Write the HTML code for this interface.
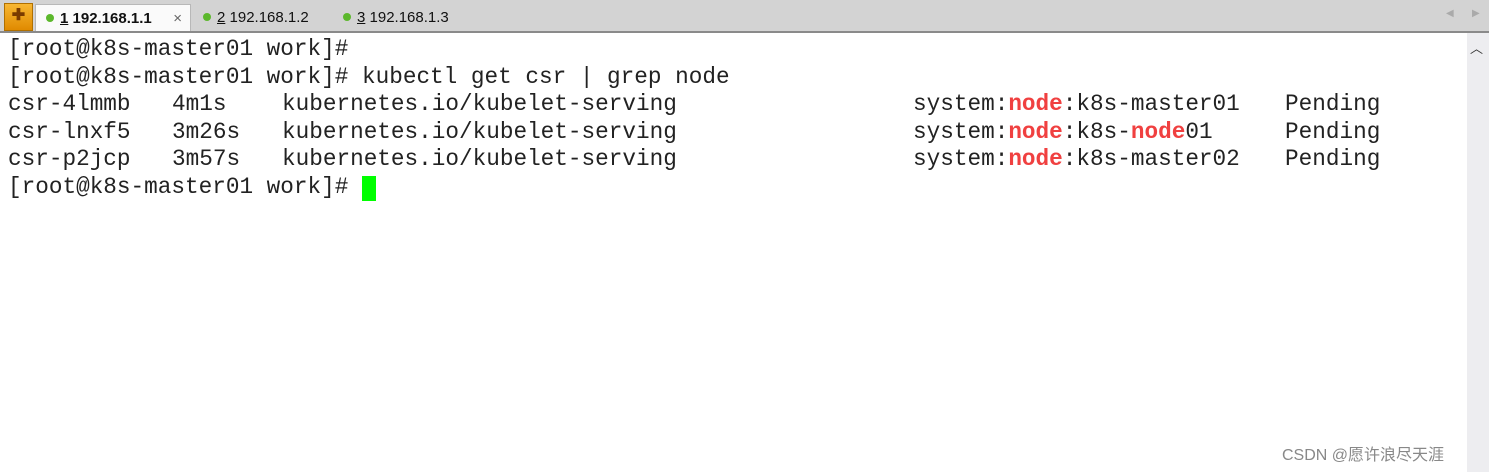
<!DOCTYPE html>
<html><head><meta charset="utf-8"><style>
body{margin:0;width:1489px;height:472px;overflow:hidden;background:#fff;position:relative;font-family:"Liberation Sans",sans-serif}
.bar{position:absolute;left:0;top:0;width:1489px;height:31px;background:#d3d3d3;border-bottom:1px solid #a0a0a0}
.sep{position:absolute;left:0;top:31px;width:1489px;height:2px;background:#8a8a8a}
.tab{position:absolute;top:4px;height:27px;font-size:15px;line-height:27px;color:#111}
.dot{display:inline-block;width:8px;height:8px;border-radius:50%;background:#5cb82c;margin-right:6px;vertical-align:1px}
.t{position:absolute;font-family:"Liberation Mono",monospace;font-size:22.7px;color:#222;white-space:pre;line-height:27px}
.r{color:#f04040;font-weight:bold}
.sb{position:absolute;left:1467px;top:33px;width:22px;height:439px;background:#ededf0}
</style></head><body>
<div class="bar"></div>
<div style="position:absolute;left:4px;top:3px;width:27px;height:26px;background:linear-gradient(#f7b733,#e08a00);border:1px solid #b07000;color:#7a3b00;font-size:16px;text-align:center;line-height:24px;font-weight:bold">✚</div>
<div class="tab" style="left:35px;width:156px;background:#fafafa;border:1px solid #b8b8b8;border-bottom:none;padding-left:10px;box-sizing:border-box;font-weight:bold"><span class="dot"></span><u>1</u> 192.168.1.1<span style="position:absolute;right:8px;font-weight:normal;color:#666">×</span></div>
<div class="tab" style="left:203px"><span class="dot"></span><u>2</u> 192.168.1.2</div>
<div class="tab" style="left:343px"><span class="dot"></span><u>3</u> 192.168.1.3</div>
<div style="position:absolute;left:1446px;top:8px;font-size:10px;color:#aaa">◀</div>
<div style="position:absolute;left:1472px;top:8px;font-size:10px;color:#aaa">▶</div>
<div class="sep"></div>
<div class="sb"></div>
<div style="position:absolute;left:1470px;top:38px;font-size:13px;color:#333">︿</div>

<div class="t" style="left:8px;top:36px">[root@k8s-master01 work]#</div>
<div class="t" style="left:8px;top:64px">[root@k8s-master01 work]# kubectl get csr | grep node</div>

<div class="t" style="left:8px;top:91px">csr-4lmmb</div><div class="t" style="left:172px;top:91px">4m1s</div><div class="t" style="left:282px;top:91px">kubernetes.io/kubelet-serving</div><div class="t" style="left:913px;top:91px">system:<span class="r">node</span>:k8s-master01</div><div class="t" style="left:1285px;top:91px">Pending</div>

<div class="t" style="left:8px;top:119px">csr-lnxf5</div><div class="t" style="left:172px;top:119px">3m26s</div><div class="t" style="left:282px;top:119px">kubernetes.io/kubelet-serving</div><div class="t" style="left:913px;top:119px">system:<span class="r">node</span>:k8s-<span class="r">node</span>01</div><div class="t" style="left:1285px;top:119px">Pending</div>

<div class="t" style="left:8px;top:146px">csr-p2jcp</div><div class="t" style="left:172px;top:146px">3m57s</div><div class="t" style="left:282px;top:146px">kubernetes.io/kubelet-serving</div><div class="t" style="left:913px;top:146px">system:<span class="r">node</span>:k8s-master02</div><div class="t" style="left:1285px;top:146px">Pending</div>

<div class="t" style="left:8px;top:174px">[root@k8s-master01 work]#</div>
<div style="position:absolute;left:362px;top:176px;width:14px;height:25px;background:#00ff00"></div>

<div style="position:absolute;left:1282px;top:441px;font-family:'Liberation Sans','Noto Sans CJK SC',sans-serif;font-size:16px;color:#888">CSDN @愿许浪尽天涯</div>
</body></html>
